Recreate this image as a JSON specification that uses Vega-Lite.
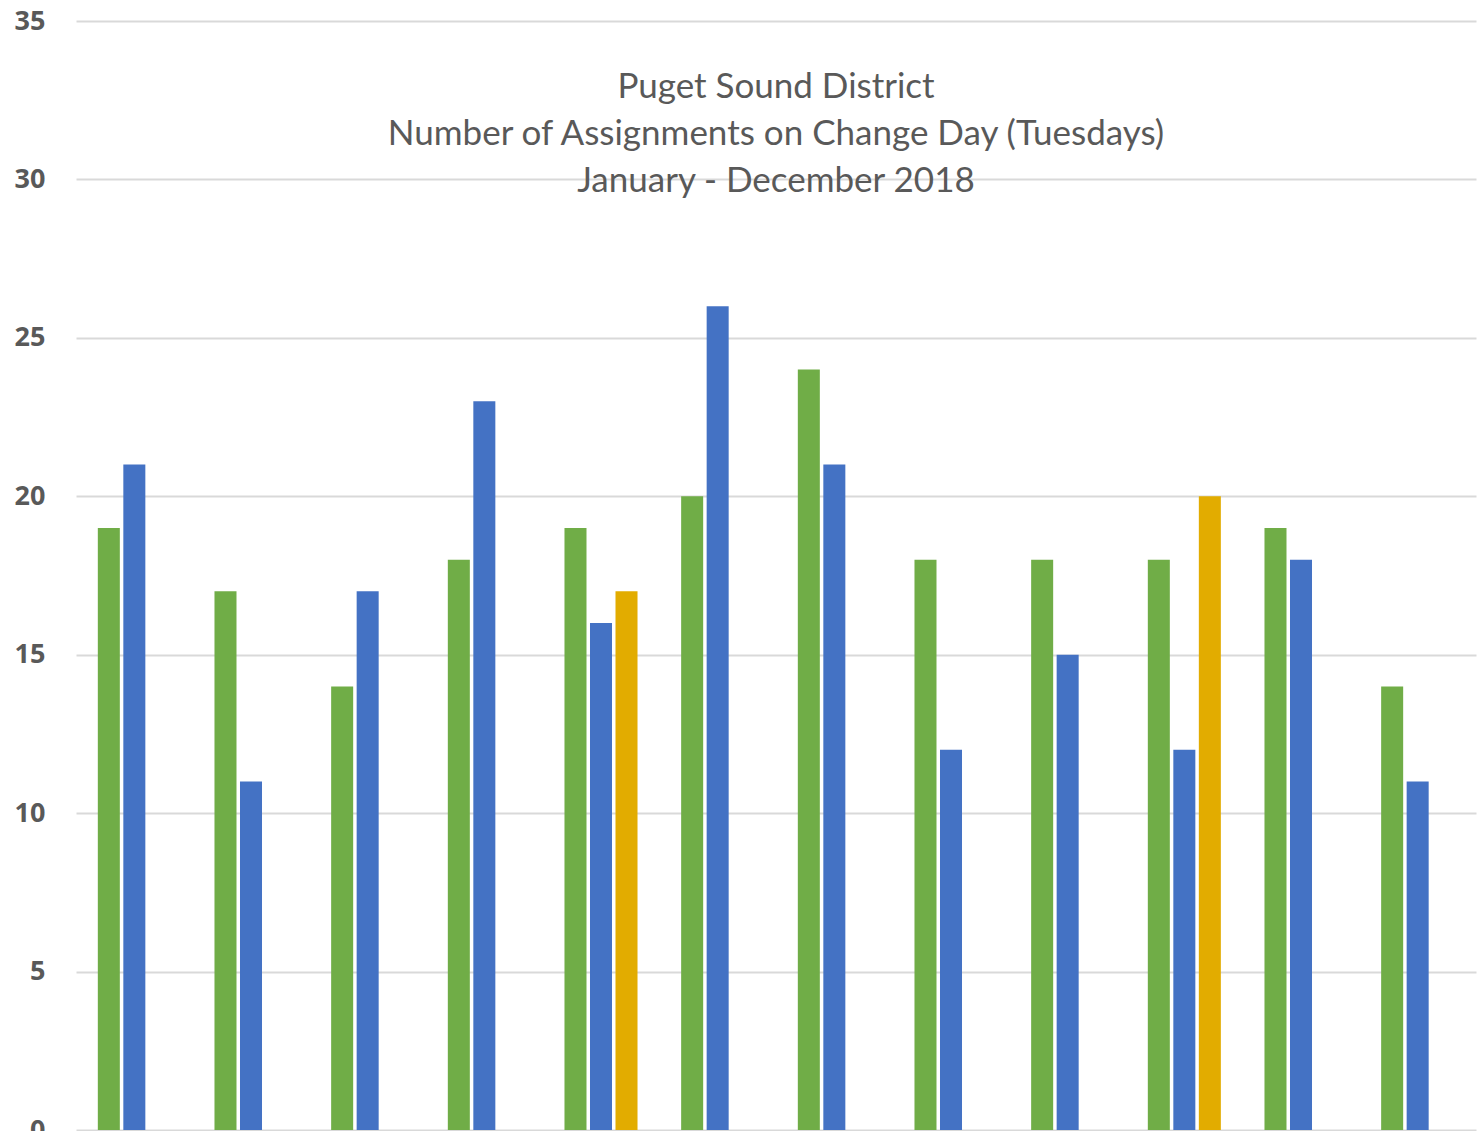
{
  "$schema": "https://vega.github.io/schema/vega-lite/v6.json",
  "autosize": {"type": "none"},
  "width": 1400,
  "height": 1109,
  "padding": {"left": 76, "top": 21, "right": 4, "bottom": 1},
  "background": "white",
  "title": {
    "text": ["Puget Sound District", "Number of Assignments on Change Day (Tuesdays)", "January - December 2018"],
    "anchor": "middle",
    "frame": "group",
    "orient": "top",
    "baseline": "top",
    "offset": -192,
    "font": "Lato",
    "fontSize": 35,
    "fontWeight": "normal",
    "lineHeight": 47,
    "color": "#595959"
  },
  "data": {
    "values": [
      {"month": "Jan", "series": "A", "value": 19},
      {"month": "Jan", "series": "B", "value": 21},
      {"month": "Feb", "series": "A", "value": 17},
      {"month": "Feb", "series": "B", "value": 11},
      {"month": "Mar", "series": "A", "value": 14},
      {"month": "Mar", "series": "B", "value": 17},
      {"month": "Apr", "series": "A", "value": 18},
      {"month": "Apr", "series": "B", "value": 23},
      {"month": "May", "series": "A", "value": 19},
      {"month": "May", "series": "B", "value": 16},
      {"month": "May", "series": "C", "value": 17},
      {"month": "Jun", "series": "A", "value": 20},
      {"month": "Jun", "series": "B", "value": 26},
      {"month": "Jul", "series": "A", "value": 24},
      {"month": "Jul", "series": "B", "value": 21},
      {"month": "Aug", "series": "A", "value": 18},
      {"month": "Aug", "series": "B", "value": 12},
      {"month": "Sep", "series": "A", "value": 18},
      {"month": "Sep", "series": "B", "value": 15},
      {"month": "Oct", "series": "A", "value": 18},
      {"month": "Oct", "series": "B", "value": 12},
      {"month": "Oct", "series": "C", "value": 20},
      {"month": "Nov", "series": "A", "value": 19},
      {"month": "Nov", "series": "B", "value": 18},
      {"month": "Dec", "series": "A", "value": 14},
      {"month": "Dec", "series": "B", "value": 11}
    ]
  },
  "mark": {"type": "bar"},
  "encoding": {
    "x": {
      "field": "month",
      "type": "nominal",
      "sort": ["Jan", "Feb", "Mar", "Apr", "May", "Jun", "Jul", "Aug", "Sep", "Oct", "Nov", "Dec"],
      "scale": {"paddingInner": 0.374, "paddingOuter": 0.187},
      "axis": null
    },
    "xOffset": {
      "field": "series",
      "type": "nominal",
      "scale": {"domain": ["A", "B", "C"], "paddingInner": 0.137, "paddingOuter": 0}
    },
    "y": {
      "field": "value",
      "type": "quantitative",
      "scale": {"domain": [0, 35], "nice": false},
      "axis": {
        "values": [0, 5, 10, 15, 20, 25, 30, 35],
        "title": null,
        "domain": false,
        "ticks": false,
        "tickSize": 0,
        "labelPadding": 31,
        "labelFont": "Open Sans",
        "labelFontSize": 27,
        "labelFontWeight": "bold",
        "labelColor": "#595959",
        "gridColor": "#d9d9d9",
        "gridWidth": 2
      }
    },
    "color": {
      "field": "series",
      "type": "nominal",
      "scale": {"domain": ["A", "B", "C"], "range": ["#70AD47", "#4472C4", "#E2AC00"]},
      "legend": null
    }
  },
  "config": {"view": {"stroke": null}}
}
